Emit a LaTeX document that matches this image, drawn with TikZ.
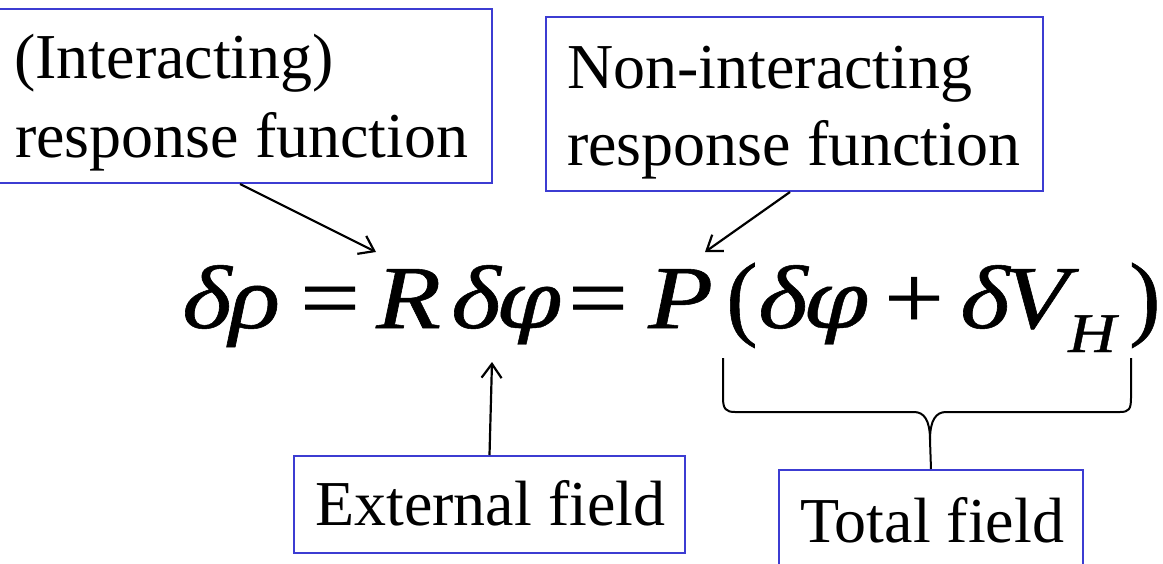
\documentclass[tikz,border=0pt]{standalone}
\usepackage{fontspec}
\setmainfont{Liberation Serif}
\newfontfamily\eqfont[FakeBold=0.6]{Liberation Serif}
\newfontfamily\phifont[FakeBold=0.5,Scale=0.88]{DejaVu Serif}
\usetikzlibrary{arrows.meta}
\definecolor{boxblue}{RGB}{60,60,210}
\newcommand{\wide}[1]{\scalebox{1.18}[1]{#1}}
\newcommand{\vphi}{{\phifont\itshape φ}}
\begin{document}
\begin{tikzpicture}[x=1pt,y=-1pt,
  box/.style={draw=boxblue, line width=2pt, inner sep=0pt, anchor=north west},
  lbl/.style={anchor=base west, inner sep=0pt, font=\fontsize{64}{78}\selectfont},
  eq/.style={anchor=base west, inner sep=0pt, font=\eqfont\fontsize{90}{96}\selectfont},
  eqi/.style={anchor=base west, inner sep=0pt, font=\eqfont\itshape\fontsize{90}{96}\selectfont},
  sub/.style={anchor=base west, inner sep=0pt, font=\eqfont\itshape\fontsize{56}{60}\selectfont},
  par/.style={anchor=base west, inner sep=0pt, font=\eqfont\fontsize{94}{100}\selectfont},
  pointer/.style={line width=2.2pt, -{Straight Barb[length=14pt,width=20pt]}},
  bracestyle/.style={line width=2pt}]
\useasboundingbox (0,0) rectangle (1163,563);

% boxes
\node[box, minimum width=493pt, minimum height=174pt] (b1) at (-2,8) {};
\node[box, minimum width=497pt, minimum height=174pt] (b2) at (545,16) {};
\node[box, minimum width=391pt, minimum height=97pt] (ef) at (293,455) {};
\node[box, minimum width=304pt, minimum height=110pt] (tf) at (778,469) {};

% box texts
\node[lbl] (t1a) at (14,78) {(Interacting)};
\node[lbl] (t1b) at (15,157) {response function};
\node[lbl] (t2a) at (567,88) {Non-interacting};
\node[lbl] (t2b) at (567,165) {response function};
\node[lbl] (t3) at (315,525) {External field};
\node[lbl] (t4) at (800,542) {Total field};

% equation
\node[eqi] (rho) at (182,328) {\wide{δ\kern-2ptρ}};
\node[eq] (eqa) at (300,328) {\wide{=}};
\node[eqi] (R) at (376,328) {\wide{R}};
\node[eqi] (dphia) at (451,328) {\wide{δ\kern-4pt\vphi}};
\node[eq] (eqb) at (568,328) {\wide{=}};
\node[eqi] (P) at (648,328) {\wide{P}};
\node[par] (lp) at (726,328) {(};
\node[eqi] (dphib) at (758,328) {\wide{δ\kern-4pt\vphi}};
\node[eq] (plus) at (884,328) {\wide{+}};
\node[eqi] (dV) at (960,328) {\wide{δ\kern-5pt V}};
\node[sub] (H) at (1068,352) {\wide{H}};
\node[par] (rp) at (1129,328) {)};

% connectors
\coordinate (s1) at (240,0);
\coordinate (tip1) at (376,252);
\coordinate (s2) at (790,0);
\coordinate (tip2) at (705,252);
\coordinate (tip3) at (492,362);
\draw[pointer] (b1.south -| s1) -- (tip1);
\draw[pointer] (b2.south -| s2) -- (tip2);
\draw[pointer] (ef.north) -- (tip3);

% brace
\draw[bracestyle] (723,358) -- (723,398) .. controls (723,409) and (726,412) .. (735,412)
  -- (914,412) .. controls (924,412) and (930,420) .. (930,440) -- (tf.north);
\draw[bracestyle] (930,440) .. controls (930,420) and (936,412) .. (946,412)
  -- (1120,412) .. controls (1129,412) and (1131,409) .. (1131,398) -- (1131,358);
\end{tikzpicture}
\end{document}
